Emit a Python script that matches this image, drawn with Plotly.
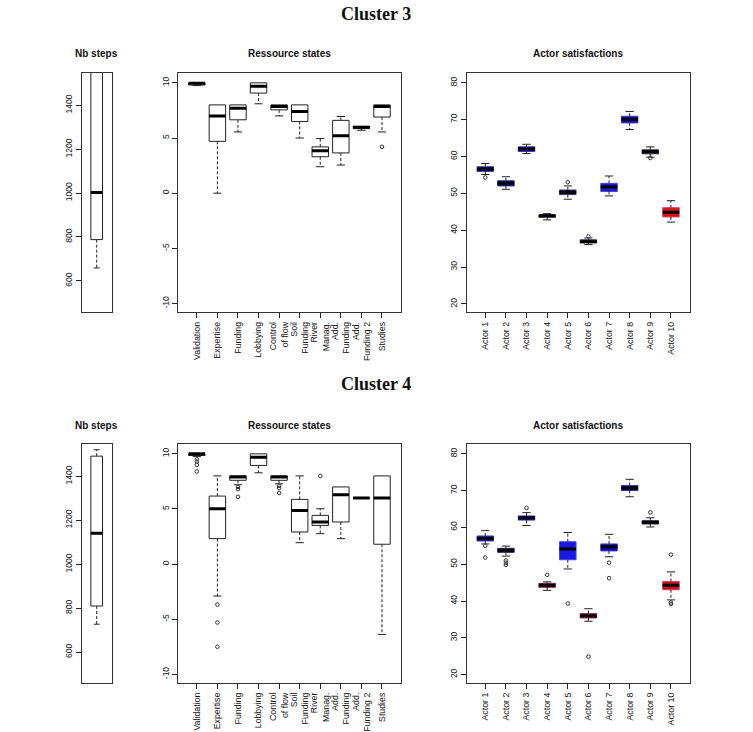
import plotly.graph_objects as go

W, H = 753, 732

# ---------------- data ----------------
res_labels = ["Validation", "Expertise", "Funding", "Lobbying", "Control<br>of flow",
              "Soil<br>Funding", "River<br>Manag.", "Add.<br>Funding", "Add.<br>Funding 2", "Studies"]
actor_labels = ["Actor 1", "Actor 2", "Actor 3", "Actor 4", "Actor 5",
                "Actor 6", "Actor 7", "Actor 8", "Actor 9", "Actor 10"]

# Cluster 3 - Nb steps
c3_steps_lower = [659]
c3_steps_q1 = [788]
c3_steps_med = [1003]
c3_steps_q3 = [1560]
c3_steps_upper = [1560]
c3_steps_out = [[]]

# Cluster 4 - Nb steps
c4_steps_lower = [727]
c4_steps_q1 = [810]
c4_steps_med = [1141]
c4_steps_q3 = [1492]
c4_steps_upper = [1521]
c4_steps_out = [[]]

# Cluster 3 - Ressource states
c3_res_lower = [9.75, 0.0, 5.55, 8.1, 7.0, 5.0, 2.4, 2.55, 5.7, 5.55]
c3_res_q1 = [9.8, 4.7, 6.65, 9.07, 7.55, 6.5, 3.3, 3.65, 5.85, 6.9]
c3_res_med = [9.95, 7.0, 7.7, 9.7, 7.85, 7.4, 3.85, 5.2, 5.97, 7.85]
c3_res_q3 = [10.0, 8.0, 8.0, 10.0, 8.0, 8.0, 4.2, 6.6, 6.05, 8.0]
c3_res_upper = [10.0, 8.0, 8.0, 10.0, 8.0, 8.0, 4.95, 6.95, 6.05, 8.0]
c3_res_out = [[], [], [], [], [], [], [], [], [], [4.2]]

# Cluster 4 - Ressource states
c4_res_lower = [9.75, -2.9, 7.2, 8.28, 7.28, 1.94, 2.76, 2.31, 6.0, -6.38]
c4_res_q1 = [9.85, 2.31, 7.6, 8.95, 7.6, 2.91, 3.51, 3.82, 6.0, 1.8]
c4_res_med = [10.0, 5.02, 7.9, 9.7, 7.9, 4.87, 3.82, 6.29, 6.0, 6.0]
c4_res_q3 = [10.0, 6.17, 8.0, 10.0, 8.0, 5.87, 4.42, 7.0, 6.0, 8.0]
c4_res_upper = [10.0, 8.0, 8.0, 10.0, 8.0, 8.0, 5.02, 7.0, 6.0, 8.0]
c4_res_out = [[9.5, 9.3, 9.0, 8.4], [-3.67, -5.3, -7.5], [7.0, 6.8, 6.1], [], [7.1, 6.9, 6.45],
              [], [8.0], [], [], []]

# Cluster 3 - Actor satisfactions
c3_act_lower = [55.1, 51.1, 60.8, 42.8, 48.4, 36.1, 49.3, 67.3, 59.8, 42.2]
c3_act_q1 = [55.95, 52.0, 61.35, 43.5, 49.65, 36.6, 50.5, 69.1, 60.7, 43.6]
c3_act_med = [56.6, 52.7, 62.1, 43.9, 50.3, 36.9, 51.7, 70.1, 61.3, 44.9]
c3_act_q3 = [57.2, 53.4, 62.6, 44.2, 50.9, 37.4, 52.7, 70.9, 61.8, 46.1]
c3_act_upper = [58.1, 54.5, 63.3, 44.5, 52.0, 37.9, 54.7, 72.2, 62.6, 48.0]
c3_act_out = [[54.3], [], [], [], [53.0], [38.3], [], [], [59.6], []]
c3_act_fill = ["#0a0a7a", "#050560", "#0a0a88", "#111111", "#0c0c2a",
               "#141414", "#1c1cc8", "#1010a8", "#121212", "#d41414"]

# Cluster 4 - Actor satisfactions
c4_act_lower = [55.5, 52.2, 60.5, 42.9, 48.7, 34.5, 52.0, 68.3, 60.1, 40.3]
c4_act_q1 = [56.3, 53.2, 61.97, 43.7, 51.2, 35.4, 53.6, 70.0, 60.9, 43.05]
c4_act_med = [57.0, 53.8, 62.6, 44.25, 54.1, 35.95, 54.7, 70.7, 61.35, 44.25]
c4_act_q3 = [57.65, 54.3, 63.1, 44.8, 56.1, 36.6, 55.5, 71.35, 61.8, 45.3]
c4_act_upper = [59.1, 54.9, 64.0, 45.2, 58.6, 37.9, 58.1, 73.05, 62.6, 47.9]
c4_act_out = [[55.0, 51.8], [51.0, 50.4, 49.8], [65.3], [47.1], [39.3],
              [24.9], [50.4, 46.2], [], [64.05], [52.6, 39.6, 39.2]]
c4_act_fill = ["#0a0a8c", "#0c0c20", "#0a0a9c", "#6a0808", "#1818e0",
               "#780a0a", "#0c0cb4", "#08087e", "#121212", "#cc1414"]

# ---------------- layout helpers ----------------
FONT = "Liberation Sans, Arial, Helvetica, sans-serif"
fig = go.Figure()

panels = [
    dict(key="1", x0=81.7, x1=111.7, yt=73.3, yb=313.3, xr=[0.46, 1.54], yr=[456, 1547],
         yt_vals=[600, 800, 1000, 1200, 1400], labels=None, bw=0.42,
         stats=(c3_steps_lower, c3_steps_q1, c3_steps_med, c3_steps_q3, c3_steps_upper, c3_steps_out),
         fills=None, title="Nb steps"),
    dict(key="2", x0=178.3, x1=400.5, yt=73.3, yb=313.3, xr=[0.1, 10.9], yr=[-10.8, 10.88],
         yt_vals=[-10, -5, 0, 5, 10], labels=res_labels, bw=0.8,
         stats=(c3_res_lower, c3_res_q1, c3_res_med, c3_res_q3, c3_res_upper, c3_res_out),
         fills=None, title="Ressource states"),
    dict(key="3", x0=466.7, x1=689.5, yt=73.3, yb=313.3, xr=[0.1, 10.9], yr=[17.7, 82.6],
         yt_vals=[20, 30, 40, 50, 60, 70, 80], labels=actor_labels, bw=0.8,
         stats=(c3_act_lower, c3_act_q1, c3_act_med, c3_act_q3, c3_act_upper, c3_act_out),
         fills=c3_act_fill, title="Actor satisfactions"),
    dict(key="4", x0=81.7, x1=111.7, yt=445.7, yb=685.0, xr=[0.46, 1.54], yr=[459, 1545],
         yt_vals=[600, 800, 1000, 1200, 1400], labels=None, bw=0.42,
         stats=(c4_steps_lower, c4_steps_q1, c4_steps_med, c4_steps_q3, c4_steps_upper, c4_steps_out),
         fills=None, title="Nb steps"),
    dict(key="5", x0=178.3, x1=400.5, yt=445.7, yb=685.0, xr=[0.1, 10.9], yr=[-10.8, 10.85],
         yt_vals=[-10, -5, 0, 5, 10], labels=res_labels, bw=0.8,
         stats=(c4_res_lower, c4_res_q1, c4_res_med, c4_res_q3, c4_res_upper, c4_res_out),
         fills=None, title="Ressource states"),
    dict(key="6", x0=466.7, x1=689.5, yt=445.7, yb=685.0, xr=[0.1, 10.9], yr=[17.7, 82.5],
         yt_vals=[20, 30, 40, 50, 60, 70, 80], labels=actor_labels, bw=0.8,
         stats=(c4_act_lower, c4_act_q1, c4_act_med, c4_act_q3, c4_act_upper, c4_act_out),
         fills=c4_act_fill, title="Actor satisfactions"),
]


def lighten(hexc, f=0.35):
    h = hexc.lstrip("#")
    r, g, b = int(h[0:2], 16), int(h[2:4], 16), int(h[4:6], 16)
    r = int(r + (255 - r) * f * 0.5)
    g = int(g + (255 - g) * f * 0.5)
    b = int(b + (255 - b) * f)
    return "#%02x%02x%02x" % (min(r, 255), min(g, 255), min(b, 255))


annotations = []
for p in panels:
    k = p["key"]
    xa = "x" if k == "1" else "x" + k
    ya = "y" if k == "1" else "y" + k
    lower, q1, med, q3, upper, outs = p["stats"]
    n = len(med)
    pos = list(range(1, n + 1))
    bw = p["bw"]

    for i in range(n):
        if p["fills"] is None:
            fill, lc = "rgba(255,255,255,0)", "#222222"
        else:
            fill, lc = p["fills"][i], lighten(p["fills"][i])
        fig.add_trace(go.Box(
            x=[pos[i]], q1=[q1[i]], median=[med[i]], q3=[q3[i]],
            lowerfence=[q1[i]], upperfence=[q3[i]],
            width=bw, whiskerwidth=0, fillcolor=fill,
            line=dict(color=lc, width=1), boxpoints=False,
            xaxis=xa, yaxis=ya, showlegend=False, hoverinfo="skip"))

    wx, wy = [], []
    for i in range(n):
        if upper[i] > q3[i]:
            wx += [pos[i], pos[i], None]
            wy += [q3[i], upper[i], None]
        if lower[i] < q1[i]:
            wx += [pos[i], pos[i], None]
            wy += [q1[i], lower[i], None]
    fig.add_trace(go.Scatter(x=wx, y=wy, mode="lines",
                             line=dict(color="#222222", width=1, dash="3px,2px"),
                             xaxis=xa, yaxis=ya, showlegend=False, hoverinfo="skip"))
    sx, sy = [], []
    for i in range(n):
        for v, ref in ((upper[i], q3[i]), (lower[i], q1[i])):
            if v != ref:
                sx += [pos[i] - bw / 4, pos[i] + bw / 4, None]
                sy += [v, v, None]
    fig.add_trace(go.Scatter(x=sx, y=sy, mode="lines",
                             line=dict(color="#222222", width=1),
                             xaxis=xa, yaxis=ya, showlegend=False, hoverinfo="skip"))
    mx, my = [], []
    for i in range(n):
        mx += [pos[i] - bw / 2, pos[i] + bw / 2, None]
        my += [med[i], med[i], None]
    fig.add_trace(go.Scatter(x=mx, y=my, mode="lines",
                             line=dict(color="#000000", width=3),
                             xaxis=xa, yaxis=ya, showlegend=False, hoverinfo="skip"))
    ox, oy = [], []
    for i in range(n):
        for v in outs[i]:
            ox.append(pos[i])
            oy.append(v)
    if ox:
        fig.add_trace(go.Scatter(x=ox, y=oy, mode="markers",
                                 marker=dict(symbol="circle-open", size=3.6,
                                             color="#333333", line=dict(width=1)),
                                 xaxis=xa, yaxis=ya, showlegend=False, hoverinfo="skip"))

    xdom = [p["x0"] / W, p["x1"] / W]
    ydom = [1 - p["yb"] / H, 1 - p["yt"] / H]
    xname = "xaxis" if k == "1" else "xaxis" + k
    yname = "yaxis" if k == "1" else "yaxis" + k
    xa_cfg = dict(domain=xdom, range=p["xr"], anchor=ya, showgrid=False, zeroline=False,
                  showline=True, linecolor="#333333", linewidth=1, mirror=True)
    if p["labels"] is not None:
        xa_cfg.update(tickmode="array", tickvals=pos, ticktext=p["labels"],
                      ticks="outside", ticklen=5, tickcolor="#222222", tickangle=-90,
                      tickfont=dict(family=FONT, size=8.8, color="#111111"))
    else:
        xa_cfg.update(showticklabels=False, ticks="")
    fig.layout[xname] = xa_cfg
    fig.layout[yname] = dict(domain=ydom, range=p["yr"], anchor=xa, showgrid=False,
                             zeroline=False, showline=True, linecolor="#333333",
                             linewidth=1, mirror=True, tickmode="array",
                             tickvals=p["yt_vals"], ticktext=[str(v) for v in p["yt_vals"]],
                             ticks="outside", ticklen=5, tickcolor="#222222", tickangle=-90,
                             tickfont=dict(family=FONT, size=8.5, color="#111111"))
    annotations.append(dict(text="<b>" + p["title"] + "</b>", xref="paper", yref="paper",
                            x=(p["x0"] + p["x1"]) / 2 / W,
                            y=1 - (p["yt"] - 19.5) / H, xanchor="center", yanchor="middle",
                            showarrow=False,
                            font=dict(family=FONT, size=10, color="#111111")))

for txt, py in (("Cluster 3", 14), ("Cluster 4", 385)):
    annotations.append(dict(text="<b>" + txt + "</b>", xref="paper", yref="paper",
                            x=376 / W, y=1 - py / H, xanchor="center", yanchor="middle",
                            showarrow=False,
                            font=dict(family="Liberation Serif, DejaVu Serif, serif",
                                      size=18, color="#111111")))

fig.update_layout(width=W, height=H, autosize=False,
                  margin=dict(l=0, r=0, t=0, b=0),
                  paper_bgcolor="white", plot_bgcolor="white",
                  boxmode="overlay", annotations=annotations, showlegend=False)

fig.write_html("out.html")
